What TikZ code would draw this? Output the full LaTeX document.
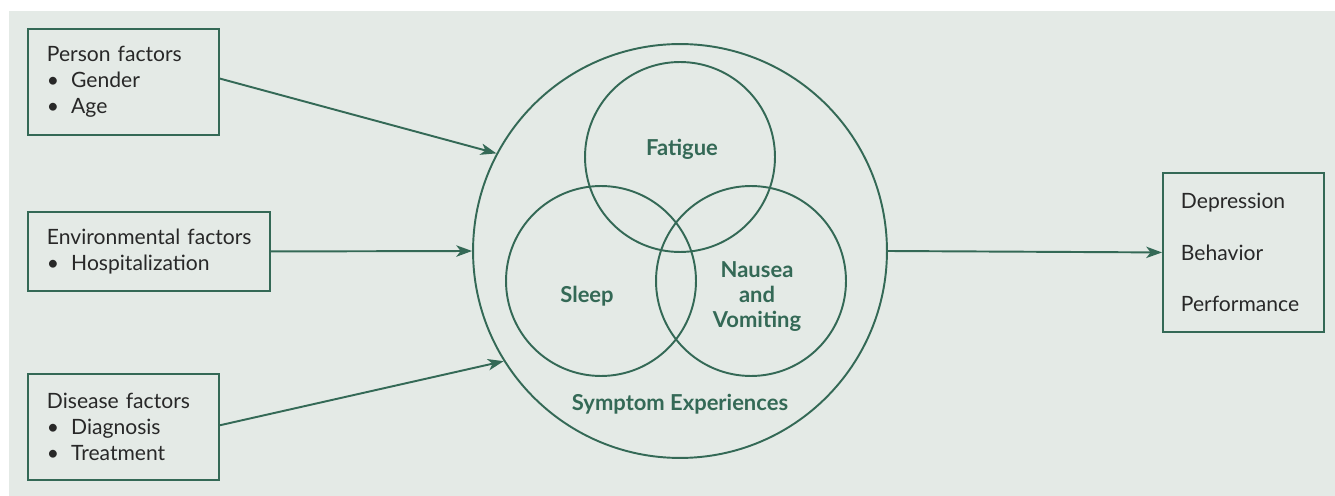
\documentclass[tikz,border=0pt]{standalone}
\usepackage{fontspec}
\setmainfont{Lato}
\usepackage{xcolor}
\usepackage{tikz}
\usetikzlibrary{arrows.meta}

\definecolor{symgreen}{RGB}{52,105,86}
\definecolor{symback}{RGB}{228,234,230}
\definecolor{symtext}{RGB}{40,40,40}
\newcommand{\bulletitem}[1]{\makebox[1.15em][l]{\textbullet}#1}

\begin{document}
\begin{tikzpicture}[x=0.02cm, y=-0.02cm, line width=1.1pt]
	\tikzset{factor box/.style={draw=symgreen, text=symtext, anchor=north west, align=left,
			inner ysep=0pt, font=\fontsize{12}{14.7}\selectfont}}
	\tikzset{symptom/.style={draw=symgreen, circle, inner sep=0pt}}
	\tikzset{symptom label/.style={text=symgreen, anchor=base, align=center,
			font=\fontsize{12.5}{14.5}\selectfont\bfseries}}
	\tikzset{flow/.style={draw=symgreen, -{Stealth[length=9pt, width=6.5pt, inset=2.5pt]}}}

	\useasboundingbox (0,0) rectangle (1335,496);
	\fill[symback] (9,11) rectangle (1335,496);

	% factors on the left
	\node[factor box, text width=3.06cm, inner xsep=0.38cm, minimum height=2.12cm] (person) at (27,28)
		{Person factors\\ \bulletitem{Gender}\\ \bulletitem{Age}};
	\node[factor box, text width=4.08cm, inner xsep=0.38cm, minimum height=1.58cm] (environment) at (27,211)
		{\mbox{Environmental factors}\\ \bulletitem{Hospitalization}};
	\node[factor box, text width=3.06cm, inner xsep=0.38cm, minimum height=2.12cm] (disease) at (27,373)
		{Disease factors\\ \bulletitem{Diagnosis}\\ \bulletitem{Treatment}};

	% symptom experiences
	\node[symptom, minimum size=8.28cm] (experience) at (680,251) {};
	\node[symptom, minimum size=3.8cm] (fatigue) at (680,157) {};
	\node[symptom, minimum size=3.8cm] (sleep) at (601,281) {};
	\node[symptom, minimum size=3.8cm] (nausea) at (751,281) {};

	\node[symptom label] (fatiguetext) at (682,156) {Fatigue};
	\node[symptom label] (sleeptext) at (587,303) {Sleep};
	\node[symptom label] (nauseatext) at (757,328) {Nausea\\and\\Vomiting};
	\node[symptom label] (experiencetext) at (680,410) {Symptom Experiences};

	% outcomes
	\node[factor box, text width=2.5cm, inner xsep=0.36cm, minimum height=3.18cm,
		font=\fontsize{12}{29.5}\selectfont] (outcome) at (1162,172)
		{Depression\\ Behavior\\ Performance};

	\draw[flow] (person.2.4) -- (experience.152);
	\draw[flow] (environment.east) -- (experience.west);
	\draw[flow] (disease.1.8) -- (experience.212);
	\draw[flow] (experience.east) -- (outcome.west);
\end{tikzpicture}
\end{document}
